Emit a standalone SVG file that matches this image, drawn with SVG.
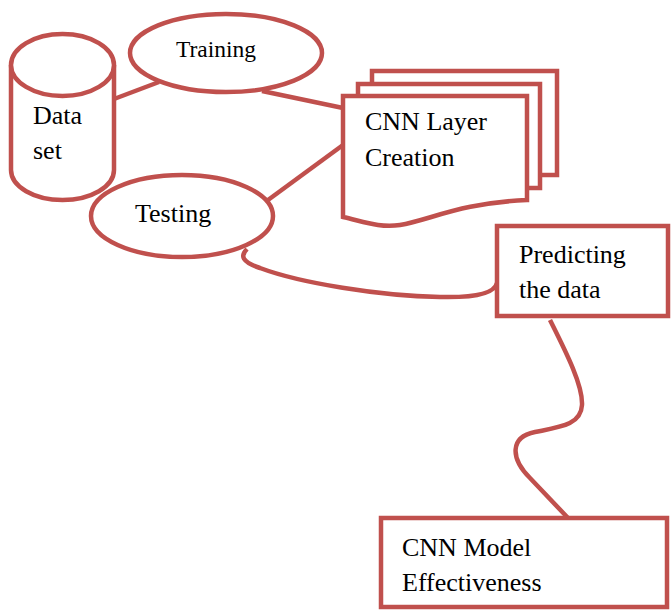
<svg xmlns="http://www.w3.org/2000/svg" width="671" height="610" viewBox="0 0 671 610">
<style>
.s{fill:#fff;stroke:#C0504D;stroke-width:4.5;stroke-linejoin:miter}
.c{fill:none;stroke:#C0504D;stroke-width:4.5}
text{font-family:"Liberation Serif","Times New Roman",serif;font-size:26px;fill:#000}
</style>
<rect width="671" height="610" fill="#fff"/>
<g id="connectors">
<path class="c" d="M114,99 L159,82"/>
<path class="c" d="M262,91 L343,108"/>
<path class="c" d="M268,200 L343,145"/>
<path class="c" d="M247,249 C240,256 242,262 260,268 C300,283 380,296 440,297 C480,298 495,292 497,283"/>
<path class="c" d="M550,320 C565,350 583,385 582,405 C581,425 560,427 535,432 C510,437 510,458 530,478 L568,518"/>
</g>
<g id="dataset">
<path class="s" d="M11,65 V170 A51.5,30 0 0 0 114,170 V65"/>
<ellipse class="s" cx="62.5" cy="65" rx="51.5" ry="31"/>
<text x="33" y="124">Data</text>
<text x="33" y="159">set</text>
</g>
<g id="training">
<ellipse class="s" cx="226" cy="53" rx="96" ry="39"/>
<text x="176" y="57" style="font-size:23.5px">Training</text>
</g>
<g id="testing">
<ellipse class="s" cx="182" cy="216" rx="91" ry="41"/>
<text x="135" y="222">Testing</text>
</g>
<g id="cnn-layer">
<rect class="s" x="372" y="71" width="185" height="104"/>
<rect class="s" x="358" y="84" width="182" height="104"/>
<path class="s" d="M343,96 H527 V200 C460,203 430,220 400,225 C380,228 365,222 343,217 Z"/>
<text x="365" y="130">CNN Layer</text>
<text x="365" y="166">Creation</text>
</g>
<g id="predicting">
<rect class="s" x="497" y="226" width="171" height="90"/>
<text x="519" y="263">Predicting</text>
<text x="519" y="298">the data</text>
</g>
<g id="effectiveness">
<rect class="s" x="381" y="518" width="286" height="89"/>
<text x="402" y="556">CNN Model</text>
<text x="402" y="591">Effectiveness</text>
</g>
</svg>
